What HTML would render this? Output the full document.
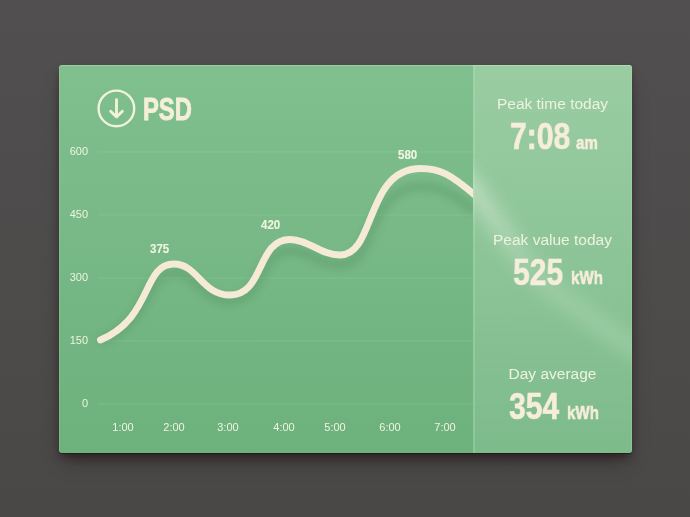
<!DOCTYPE html>
<html><head><meta charset="utf-8">
<style>
*{margin:0;padding:0;box-sizing:border-box}
html,body{width:690px;height:517px;overflow:hidden}
body{background:linear-gradient(#524f50,#4a4747);font-family:"Liberation Sans",sans-serif;position:relative}
.card{position:absolute;left:59px;top:65px;width:573px;height:388px;border-radius:3px;overflow:hidden;
 background:linear-gradient(#80bf8e,#6db17d);
 box-shadow:0 1px 0 rgba(25,25,20,.65),0 5px 9px -2px rgba(40,14,20,.6),0 12px 20px -6px rgba(0,0,0,.38)}
.card:after{content:"";position:absolute;left:0;top:0;right:0;bottom:0;border-radius:3px;box-shadow:inset 0 1px 0 rgba(255,255,255,.22),inset 1px 0 0 rgba(255,255,255,.1),inset -1px 0 0 rgba(255,255,255,.1);pointer-events:none}
.t{position:absolute;white-space:nowrap;color:#f4efd9}
.dl{font-weight:bold;font-size:12.8px;line-height:1;transform-origin:0 0;transform:scaleX(.9);-webkit-text-stroke:.1px #f0f5e0;color:#f0f5e0}
.yl{position:absolute;will-change:transform;width:40px;text-align:right;font-size:11px;color:#edf4e0;line-height:1}
.xl{position:absolute;will-change:transform;width:40px;text-align:center;font-size:11px;color:#eff4e0;line-height:1}
.grid{position:absolute;left:39px;width:375px;height:2px;background:rgba(140,212,150,.2)}
.panel{position:absolute;left:414px;top:0;width:159px;height:388px;
 background:linear-gradient(rgba(175,215,178,.55),rgba(155,205,165,.36));border-left:2px solid rgba(175,228,180,.32)}
.lab{position:absolute;will-change:transform;width:159px;text-align:center;font-size:15.5px;color:#eff2de;line-height:1}
.num{position:absolute;-webkit-text-stroke:.65px #f6eedb;will-change:transform;font-weight:bold;font-size:36.5px;line-height:1;color:#f6eedb;transform-origin:0 0;transform:scaleX(.825);white-space:nowrap}
.unit{position:absolute;-webkit-text-stroke:.6px #f6eedb;will-change:transform;font-weight:bold;font-size:18px;line-height:1;color:#f6eedb;transform-origin:0 0;transform:scaleX(.84);white-space:nowrap}
</style></head><body>
<div class="card">
  <!-- grid -->
  <div class="grid" style="top:86px"></div>
  <div class="grid" style="top:149px"></div>
  <div class="grid" style="top:212px"></div>
  <div class="grid" style="top:275px"></div>
  <div class="grid" style="top:338px"></div>
  <div class="yl" style="left:-11px;top:81px">600</div>
  <div class="yl" style="left:-11px;top:144px">450</div>
  <div class="yl" style="left:-11px;top:207px">300</div>
  <div class="yl" style="left:-11px;top:270px">150</div>
  <div class="yl" style="left:-11px;top:333px">0</div>
  <div class="xl" style="left:44px;top:357px">1:00</div>
  <div class="xl" style="left:95px;top:357px">2:00</div>
  <div class="xl" style="left:149px;top:357px">3:00</div>
  <div class="xl" style="left:205px;top:357px">4:00</div>
  <div class="xl" style="left:256px;top:357px">5:00</div>
  <div class="xl" style="left:311px;top:357px">6:00</div>
  <div class="xl" style="left:366px;top:357px">7:00</div>
  <!-- header -->
  <svg style="position:absolute;left:0;top:0" width="573" height="388" viewBox="59 65 573 388">
    <defs>
      <filter id="sh" x="-20%" y="-20%" width="140%" height="160%"><feGaussianBlur stdDeviation="5"/></filter>
      <clipPath id="cl"><rect x="59" y="65" width="414" height="388"/></clipPath>
    </defs>
    <circle cx="116.4" cy="108.4" r="17.8" fill="none" stroke="#f2f3dc" stroke-width="2.4"/>
    <path d="M116.5 99.6V116.5M110.6 111.3l5.9 5.8 5.9-5.8" fill="none" stroke="#f2f3dc" stroke-width="2.8" stroke-linecap="round" stroke-linejoin="round"/>
    <g clip-path="url(#cl)"><g transform="translate(0,332) scale(1,.9) translate(0,-330)" opacity=".24" filter="url(#sh)">
      <path d="M100.4 340.0 C153.2 317.8 142.0 264.0 174.0 264.0 C197.6 264.0 202.0 295.0 230.0 295.0 C264.5 295.0 256.5 239.5 290.0 239.5 C308.9 239.5 320.4 255.0 340.0 255.0 C376.2 255.0 364.9 168.5 421.0 168.5 C440.5 168.5 451.0 174.9 476.0 196.0" fill="none" stroke="#2a5f37" stroke-width="7"/>
    </g>
    <path d="M100.4 340.0 C153.2 317.8 142.0 264.0 174.0 264.0 C197.6 264.0 202.0 295.0 230.0 295.0 C264.5 295.0 256.5 239.5 290.0 239.5 C308.9 239.5 320.4 255.0 340.0 255.0 C376.2 255.0 364.9 168.5 421.0 168.5 C440.5 168.5 451.0 174.9 476.0 196.0" fill="none" stroke="#f4eAd5" stroke-width="6.8" stroke-linecap="round"/></g>
  </svg>
  <div class="t" style="left:83.5px;top:29.2px;-webkit-text-stroke:.9px #f4efd9;font-weight:bold;font-size:31.5px;line-height:1;transform-origin:0 0;transform:scaleX(.755)">PSD</div>
  <div class="t dl" style="left:91px;top:177.5px">375</div>
  <div class="t dl" style="left:201.5px;top:154.3px">420</div>
  <div class="t dl" style="left:338.5px;top:83.5px">580</div>
  <!-- panel -->
  <div class="panel"></div>
  <svg style="position:absolute;left:414px;top:0" width="159" height="388" viewBox="473 65 159 388">
    <defs><filter id="bl" x="-50%" y="-50%" width="200%" height="200%"><feGaussianBlur stdDeviation="9"/></filter><linearGradient id="sg" gradientUnits="userSpaceOnUse" x1="470" y1="185" x2="630" y2="350"><stop offset="0" stop-color="#f2f8e6" stop-opacity=".5"/><stop offset=".45" stop-color="#f2f8e6" stop-opacity=".22"/><stop offset="1" stop-color="#f2f8e6" stop-opacity=".2"/></linearGradient></defs>
    <path d="M456 170 C486 200 506 242 536 274 C566 304 606 327 648 358" fill="none" stroke="url(#sg)" stroke-width="17" filter="url(#bl)"/>
  </svg>
  <div class="lab" style="left:414px;top:31px">Peak time today</div>
  <div class="num" style="left:451px;top:54px">7:08</div>
  <div class="unit" style="left:517px;top:69px">am</div>
  <div class="lab" style="left:414px;top:167px">Peak value today</div>
  <div class="num" style="left:454px;top:189.5px">525</div>
  <div class="unit" style="left:512px;top:204px">kWh</div>
  <div class="lab" style="left:414px;top:301px">Day average</div>
  <div class="num" style="left:450px;top:323.5px">354</div>
  <div class="unit" style="left:508px;top:338.5px">kWh</div>
</div>
</body></html>
